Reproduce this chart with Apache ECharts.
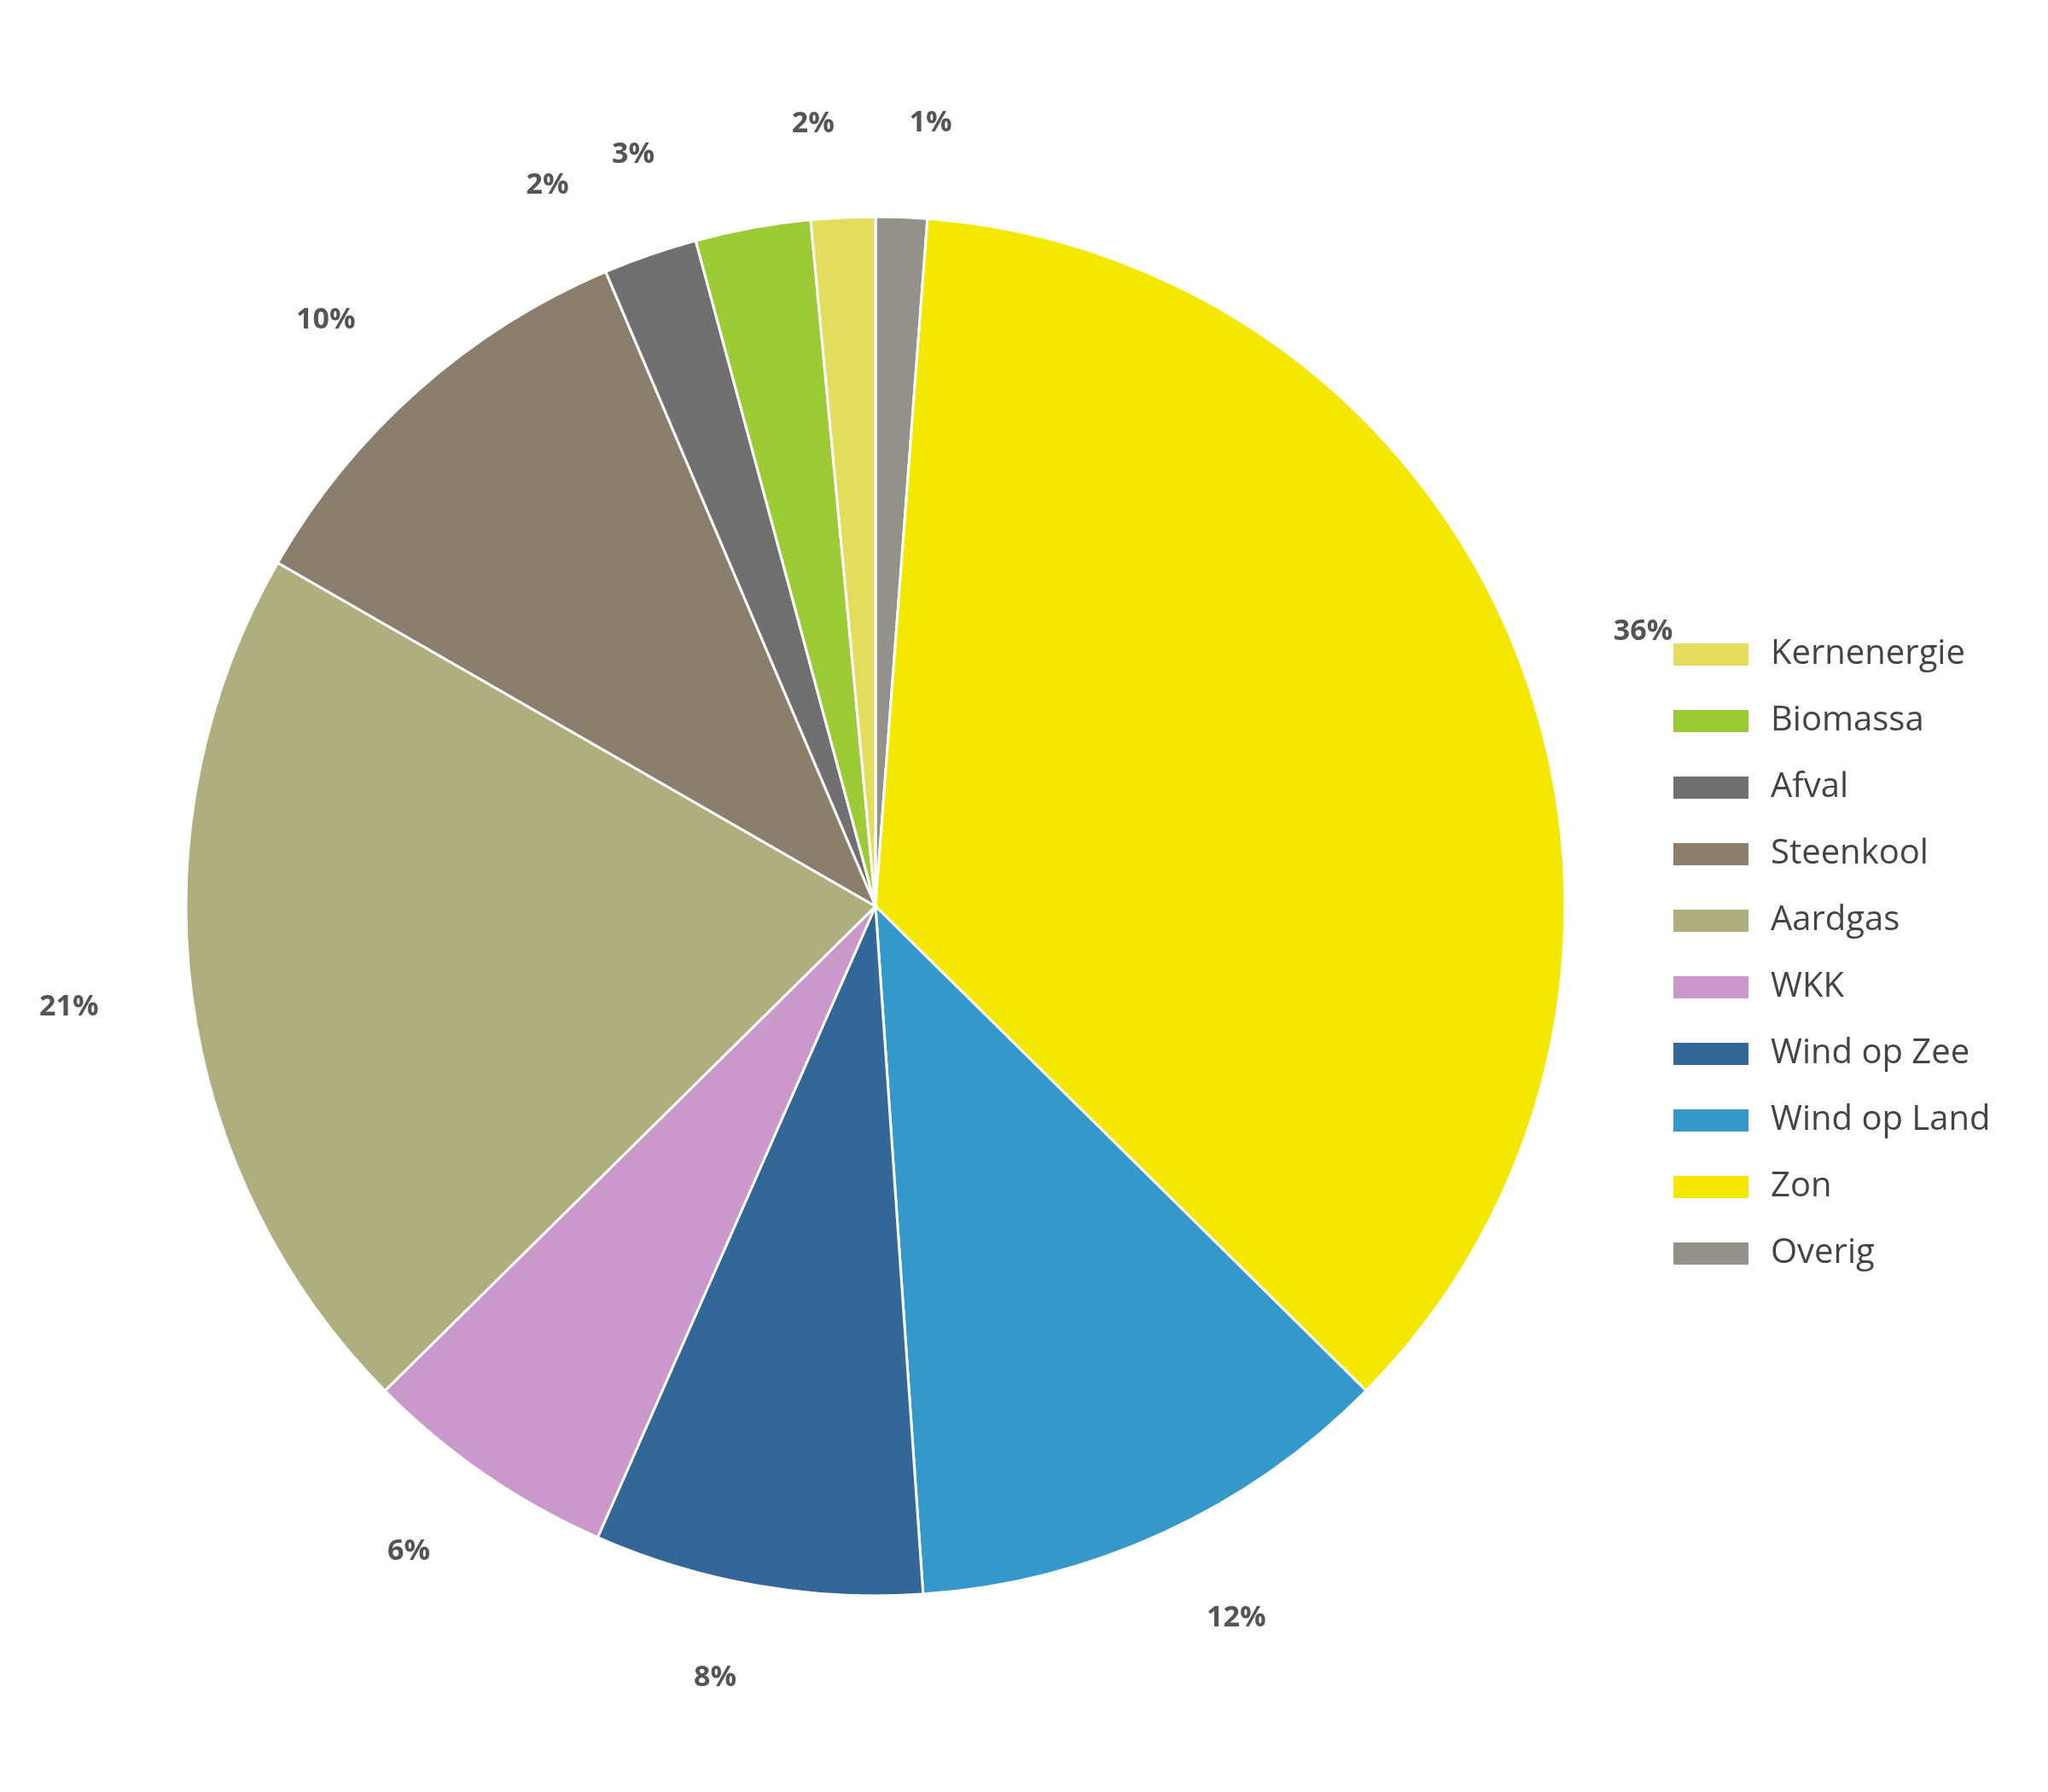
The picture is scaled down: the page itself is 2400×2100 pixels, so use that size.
<!DOCTYPE html>
<html><head><meta charset="utf-8">
<script src="https://cdn.jsdelivr.net/npm/echarts@6/dist/echarts.min.js"></script>
<style>html,body{margin:0;background:#fff}#c{width:2400px;height:2100px}</style>
</head><body><div id="c"></div>
<script>
const categories = ["Overig","Zon","Wind op Land","Wind op Zee","WKK","Aardgas","Steenkool","Afval","Biomassa","Kernenergie"];
const values = [1.2,36.2,11.5,7.7,6.0,20.7,10.3,2.2,2.7,1.5];
const labels = ["1%","36%","12%","8%","6%","21%","10%","2%","3%","2%"];
const colors = ["#92918a","#f5e800","#3598cb","#336797","#ca98ca","#afae7e","#8b7e6d","#707070","#9dcb35","#e3dd5e"];
const legendOrder = ["Kernenergie","Biomassa","Afval","Steenkool","Aardgas","WKK","Wind op Zee","Wind op Land","Zon","Overig"];
const chart = echarts.init(document.getElementById('c'));
chart.setOption({
  animation:false,
  legend:{orient:'vertical',left:1954,top:742,data:legendOrder,itemWidth:90,itemHeight:28,itemGap:38,icon:'rect',
    textStyle:{fontSize:40,color:'#444',fontFamily:'Open Sans',padding:[0,0,0,20]}},
  series:[{type:'pie',center:[1026,1062],radius:[0,808],startAngle:90,clockwise:true,
    itemStyle:{borderColor:'#fff',borderWidth:3},
    label:{show:true,position:'outside',formatter:p=>labels[p.dataIndex],fontSize:34,fontWeight:'bold',color:'#555',fontFamily:'Open Sans'},
    labelLine:{show:false,length:110,length2:0},
    data:categories.map((n,i)=>({name:n,value:values[i],itemStyle:{color:colors[i]}}))
  }]
});
</script></body></html>
